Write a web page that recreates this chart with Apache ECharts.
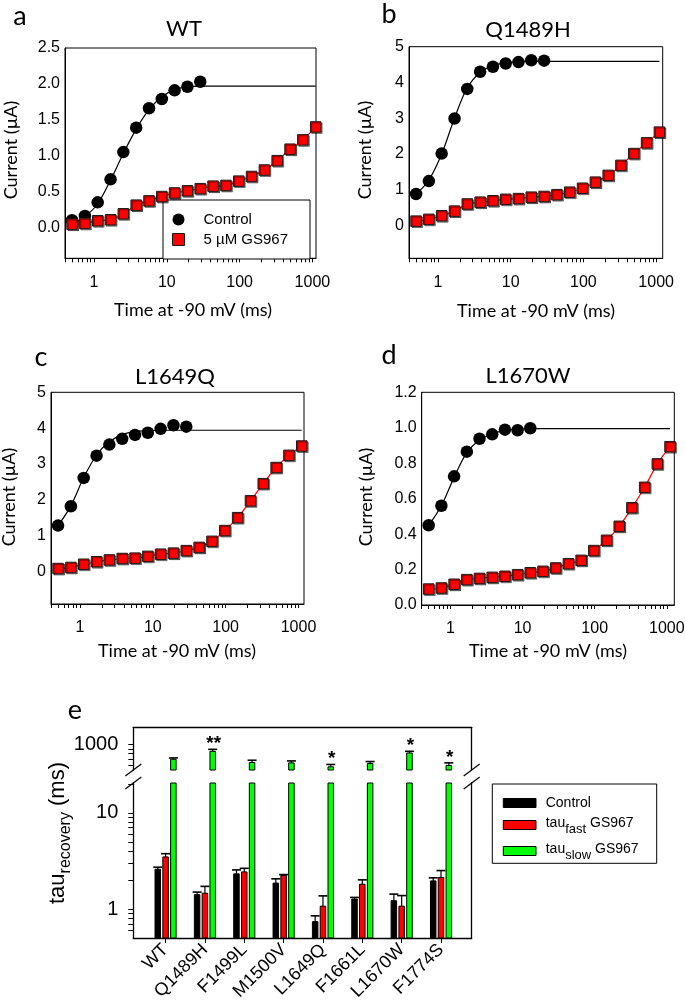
<!DOCTYPE html>
<html><head><meta charset="utf-8">
<script src="https://cdn.jsdelivr.net/npm/echarts@6/dist/echarts.min.js"></script>
<style>html,body{margin:0;padding:0;background:#fff}#c{width:685px;height:1005px}</style>
</head><body><div id="c"></div>
<script>
// ---------- data ----------
const times = [0.5, 0.75, 1.125, 1.69, 2.53, 3.8, 5.7, 8.54, 12.8, 19.2, 28.8, 43.2, 64.9, 97.3, 146, 219, 328, 493, 739, 1108];

const ctlA = [0.10, 0.16, 0.35, 0.67, 1.05, 1.39, 1.66, 1.79, 1.91, 1.96, 2.03];
const fitA = [0.05, 0.15, 0.33, 0.66, 1.03, 1.37, 1.64, 1.82, 1.92, 1.96, 1.97];
const plateauA = 1.97;
const gsA = [0.046, 0.056, 0.093, 0.107, 0.19, 0.31, 0.37, 0.43, 0.48, 0.51, 0.54, 0.575, 0.585, 0.645, 0.71, 0.80, 0.93, 1.09, 1.22, 1.40];

const ctlB = [0.88, 1.24, 2.01, 2.99, 3.82, 4.30, 4.44, 4.53, 4.57, 4.62, 4.61];
const fitB = [0.87, 1.27, 2.00, 3.00, 3.85, 4.28, 4.47, 4.55, 4.58, 4.59, 4.59];
const plateauB = 4.59;
const gsB = [0.12, 0.17, 0.27, 0.40, 0.60, 0.65, 0.69, 0.73, 0.75, 0.79, 0.81, 0.86, 0.93, 1.04, 1.21, 1.40, 1.68, 2.01, 2.31, 2.61];

const ctlC = [1.28, 1.82, 2.61, 3.23, 3.54, 3.70, 3.81, 3.87, 3.98, 4.08, 4.04];
const fitC = [1.28, 1.83, 2.62, 3.25, 3.62, 3.82, 3.90, 3.93, 3.94, 3.94, 3.94];
const plateauC = 3.94;
const gsC = [0.08, 0.11, 0.20, 0.27, 0.32, 0.36, 0.37, 0.42, 0.48, 0.51, 0.58, 0.67, 0.84, 1.14, 1.50, 1.97, 2.45, 2.90, 3.24, 3.50];

const ctlD = [0.45, 0.56, 0.726, 0.865, 0.938, 0.963, 0.989, 0.986, 0.997];
const fitD = [0.45, 0.56, 0.72, 0.86, 0.93, 0.965, 0.985, 0.993, 0.995];
const plateauD = 0.995;
const gsD = [0.090, 0.096, 0.117, 0.143, 0.150, 0.156, 0.162, 0.171, 0.182, 0.190, 0.209, 0.233, 0.252, 0.307, 0.365, 0.444, 0.549, 0.664, 0.796, 0.893];

const panelTitles = ['WT', 'Q1489H', 'L1649Q', 'L1670W'];
const panelLetters = ['a', 'b', 'c', 'd', 'e'];
const yTicksA = [0, 0.5, 1.0, 1.5, 2.0, 2.5];
const yTicksB = [0, 1, 2, 3, 4, 5];
const yTicksC = [0, 1, 2, 3, 4, 5];
const yTicksD = [0, 0.2, 0.4, 0.6, 0.8, 1.0, 1.2];
const xTickLabels = [1, 10, 100, 1000];

const variants = ['WT', 'Q1489H', 'F1499L', 'M1500V', 'L1649Q', 'F1661L', 'L1670W', 'F1774S'];
const tauCtl = [2.59, 1.41, 2.32, 1.86, 0.74, 1.27, 1.22, 1.96];
const tauCtlErrTop = [2.72, 1.50, 2.55, 2.06, 0.85, 1.32, 1.43, 2.11];
const tauFast = [3.48, 1.46, 2.43, 2.23, 1.07, 1.81, 1.07, 2.13];
const tauFastErrTop = [3.76, 1.72, 2.65, 2.28, 1.37, 2.01, 1.38, 2.51];
const tauSlow = [700, 847, 647, 641, 583, 631, 813, 603];
const tauSlowErrTop = [722, 888, 683, 672, 617, 662, 847, 641];
const signif = ['', '**', '', '', '*', '', '*', '*'];
const eUpperTicks = [600, 700, 800, 900, 1000];
const eLowerTicks = [0.6, 0.7, 0.8, 0.9, 1, 2, 3, 4, 5, 6, 7, 8, 9, 10, 20];

// ---------- layout ----------
const L10 = Math.log10;
const TICK_FONT = '"Liberation Sans", Arial, sans-serif';
const CAL_FONT = 'Lato, Carlito, sans-serif';
const panels = [
  { l: 65, r: 316, t: 48, b: 258.3, xmax: 1120, ymin: -0.43, ymax: 2.5, yt: yTicksA, dec: 1, ctl: ctlA, fit: fitA, pl: plateauA, gs: gsA },
  { l: 409, r: 662.7, t: 46.7, b: 258.3, xmax: 1230, ymin: -0.92, ymax: 5, yt: yTicksB, dec: 0, ctl: ctlB, fit: fitB, pl: plateauB, gs: gsB },
  { l: 51, r: 304, t: 392.3, b: 604, xmax: 1190, ymin: -0.91, ymax: 5, yt: yTicksC, dec: 0, ctl: ctlC, fit: fitC, pl: plateauC, gs: gsC },
  { l: 421.7, r: 674.3, t: 392.3, b: 605, xmax: 1270, ymin: 0, ymax: 1.2, yt: yTicksD, dec: 1, ctl: ctlD, fit: fitD, pl: plateauD, gs: gsD }
];
const XMIN = 0.4;
const minorX = [];
[0.1, 1, 10, 100, 1000].forEach(d => { for (let k = 1; k <= 9; k++) minorX.push(d * k); });

const eL = 133.3, eR = 471.7, eUpTop = 727.3, eUpBot = 770, eLoTop = 783, eLoBot = 938;
const eXmin = -0.82, eXmax = 7.78;
const upMin = 540, upMax = 1510, loMin = 0.5, loMax = 20.4;

const grids = [], xAxes = [], yAxes = [], series = [];
const blackLine = { show: true, onZero: false, lineStyle: { color: '#000', width: 1 } };
panels.forEach((p, i) => {
  grids.push({ left: p.l, top: p.t, width: p.r - p.l, height: p.b - p.t, show: true, borderColor: '#000', borderWidth: 1, outerBoundsMode: 'none', containLabel: false });
  const xmin = L10(XMIN), xmax = L10(p.xmax);
  xAxes.push({
    type: 'value', gridIndex: i, min: xmin, max: xmax, position: 'bottom',
    axisLine: blackLine,
    axisTick: { show: true, inside: false, length: 4, lineStyle: { color: '#000' }, customValues: minorX.map(L10).filter(v => v >= xmin - 1e-9 && v <= xmax + 1e-9) },
    axisLabel: { customValues: xTickLabels.map(L10), formatter: v => String(Math.round(Math.pow(10, v))), fontFamily: TICK_FONT, fontSize: 16, color: '#000', margin: 16 },
    splitLine: { show: false }
  });
  yAxes.push({
    type: 'value', gridIndex: i, min: p.ymin, max: p.ymax, position: 'left',
    axisLine: blackLine,
    axisTick: { show: false },
    axisLabel: { customValues: p.yt, formatter: v => v.toFixed(p.dec), fontFamily: TICK_FONT, fontSize: 16, color: '#000', margin: 5 },
    splitLine: { show: false }
  });
  const fitData = p.fit.map((v, k) => [L10(times[k]), v]).concat([[L10(times[times.length - 1]), p.pl]]);
  series.push({ type: 'line', name: 'Control fit', xAxisIndex: i, yAxisIndex: i, data: fitData, smooth: 0.35, symbol: 'none', lineStyle: { color: '#000', width: 1.2 }, z: 2, silent: true });
  series.push({ type: 'line', name: 'GS967 fit', xAxisIndex: i, yAxisIndex: i, data: p.gs.map((v, k) => [L10(times[k]), v]), smooth: 0.35, symbol: 'none', lineStyle: { color: '#ff0000', width: 1.2 }, z: 2, silent: true });
  series.push({ type: 'scatter', name: 'Control', xAxisIndex: i, yAxisIndex: i, data: p.ctl.map((v, k) => [L10(times[k]), v]), symbol: 'circle', symbolSize: 12.5, itemStyle: { color: '#000', opacity: 1 }, z: 4 });
  series.push({ type: 'scatter', name: '5 µM GS967', xAxisIndex: i, yAxisIndex: i, data: p.gs.map((v, k) => [L10(times[k]), v]), symbol: 'rect', symbolSize: 10.5, itemStyle: { color: '#ff0000', borderColor: '#1a1a1a', borderWidth: 1, shadowColor: 'rgba(0,0,0,0.45)', shadowOffsetX: 1.2, shadowOffsetY: 1.2, shadowBlur: 0.5, opacity: 1 }, z: 4 });
});

// panel e grids
grids.push({ left: eL, top: eUpTop, width: eR - eL, height: eUpBot - eUpTop, show: false, outerBoundsMode: 'none', containLabel: false });
grids.push({ left: eL, top: eLoTop, width: eR - eL, height: eLoBot - eLoTop, show: false, outerBoundsMode: 'none', containLabel: false });
const eLine = { show: true, onZero: false, lineStyle: { color: '#000', width: 1.3 } };
xAxes.push({ type: 'value', gridIndex: 4, min: eXmin, max: eXmax, position: 'top', axisLine: eLine, axisTick: { show: false }, axisLabel: { show: false }, splitLine: { show: false } });
xAxes.push({
  type: 'value', gridIndex: 5, min: eXmin, max: eXmax, position: 'bottom',
  axisLine: eLine,
  axisTick: { show: true, length: 5, customValues: variants.map((_, i) => i), lineStyle: { color: '#000' } },
  axisLabel: { customValues: variants.map((_, i) => i), formatter: v => variants[Math.round(v)], rotate: 45, fontFamily: TICK_FONT, fontSize: 18, color: '#000', margin: 9 },
  splitLine: { show: false }
});
const eAxisCommon = { type: 'value', splitLine: { show: false } };
yAxes.push(Object.assign({}, eAxisCommon, {
  gridIndex: 4, position: 'left', min: L10(upMin), max: L10(upMax),
  axisLine: eLine,
  axisTick: { show: true, length: 5, customValues: eUpperTicks.map(L10), lineStyle: { color: '#000' } },
  axisLabel: { customValues: [3], formatter: v => String(Math.round(Math.pow(10, v))), fontFamily: TICK_FONT, fontSize: 20, color: '#000', margin: 15 }
}));
yAxes.push(Object.assign({}, eAxisCommon, {
  gridIndex: 5, position: 'left', min: L10(loMin), max: L10(loMax),
  axisLine: eLine,
  axisTick: { show: true, length: 5, customValues: eLowerTicks.map(L10), lineStyle: { color: '#000' } },
  axisLabel: { customValues: [0, 1], formatter: v => String(Math.round(Math.pow(10, v))), fontFamily: TICK_FONT, fontSize: 20, color: '#000', margin: 15 }
}));
yAxes.push(Object.assign({}, eAxisCommon, { gridIndex: 4, position: 'right', min: L10(upMin), max: L10(upMax), axisLine: eLine, axisTick: { show: false }, axisLabel: { show: false } }));
yAxes.push(Object.assign({}, eAxisCommon, { gridIndex: 5, position: 'right', min: L10(loMin), max: L10(loMax), axisLine: eLine, axisTick: { show: false }, axisLabel: { show: false } }));

const BAR_W = 5.5, BAR_OFF = 7.8, CAP = 4.5;
function barRenderer(offset, fill, withStars) {
  return function (params, api) {
    const x = api.value(0), v = api.value(1), e = api.value(2);
    const cs = params.coordSys;
    const top = cs.y, bottom = cs.y + cs.height;
    const p = api.coord([x, v]);
    const pe = api.coord([x, e]);
    const cx = p[0] + offset;
    const yTop = Math.max(p[1], top);
    const children = [{
      type: 'rect', shape: { x: cx - BAR_W / 2, y: yTop, width: BAR_W, height: Math.max(0, bottom - yTop) },
      style: { fill: fill, stroke: '#000', lineWidth: 1 }
    }];
    if (p[1] >= top) {
      children.push({ type: 'line', shape: { x1: cx, y1: p[1], x2: cx, y2: pe[1] }, style: { stroke: '#000', lineWidth: 1.2 } });
      children.push({ type: 'line', shape: { x1: cx - CAP, y1: pe[1], x2: cx + CAP, y2: pe[1] }, style: { stroke: '#000', lineWidth: 1.6 } });
      if (withStars) {
        const s = signif[params.dataIndex];
        if (s) children.push({ type: 'text', style: { text: s, x: cx + 1, y: pe[1] - 15, textAlign: 'center', textVerticalAlign: 'top', font: 'bold 19px ' + TICK_FONT, fill: '#000' } });
      }
    }
    return { type: 'group', children: children };
  };
}
const mk = (vals, errs) => vals.map((v, i) => [i, L10(v), L10(errs[i])]);
series.push({ type: 'custom', name: 'Control', xAxisIndex: 5, yAxisIndex: 5, renderItem: barRenderer(-BAR_OFF, '#000000', false), data: mk(tauCtl, tauCtlErrTop), itemStyle: { color: '#000' }, z: 3 });
series.push({ type: 'custom', name: 'tau fast GS967', xAxisIndex: 5, yAxisIndex: 5, renderItem: barRenderer(0, '#ff0000', false), data: mk(tauFast, tauFastErrTop), itemStyle: { color: '#ff0000' }, z: 3 });
series.push({ type: 'custom', name: 'tau slow GS967', xAxisIndex: 5, yAxisIndex: 5, renderItem: barRenderer(BAR_OFF, '#00ff00', false), data: mk(tauSlow, tauSlowErrTop), itemStyle: { color: '#00ff00' }, z: 3 });
series.push({ type: 'custom', name: 'tau slow GS967 (upper)', xAxisIndex: 4, yAxisIndex: 4, renderItem: barRenderer(BAR_OFF, '#00ff00', true), data: mk(tauSlow, tauSlowErrTop), itemStyle: { color: '#00ff00' }, z: 3 });

// ---------- text & decorations ----------
const mctx = document.createElement('canvas').getContext('2d');
const measure = (t, font) => { mctx.font = font; return mctx.measureText(t).width; };
const g = [];
const txt = (text, x, y, font, extra) => Object.assign({ type: 'text', x: x, y: y, style: { text: text, font: font, fill: '#000', textAlign: 'center', textVerticalAlign: 'middle' } }, extra || {});
const letterPos = [[20, 16], [389, 14], [41, 357], [389, 355], [75, 710]];
panelLetters.forEach((l, i) => g.push(txt(l, letterPos[i][0], letterPos[i][1], '27px ' + CAL_FONT)));
const titlePos = [[184, 29], [528, 30], [175, 377], [528, 376]];
panelTitles.forEach((t, i) => g.push(txt(t, titlePos[i][0], titlePos[i][1], '22px ' + CAL_FONT)));
const xNamePos = [[193, 310], [536, 311], [177, 651], [548, 651]];
xNamePos.forEach(p => g.push(txt('Time at -90 mV (ms)', p[0], p[1], '18px ' + CAL_FONT)));
const yNamePos = [[11, 150], [365, 150], [9, 497], [366, 497]];
yNamePos.forEach(p => g.push(txt('Current (µA)', p[0], p[1], '18px ' + CAL_FONT, { rotation: Math.PI / 2 })));

// panel e y-axis name: tau with subscript "recovery", rotated
(function () {
  const fm = '22px ' + TICK_FONT, fs = '16px ' + TICK_FONT;
  const parts = [['tau', fm, 0], ['recovery', fs, 8], [' (ms)', fm, 0]];
  const total = parts.reduce((s, p) => s + measure(p[0], p[1]), 0);
  let y = 833 + total / 2;
  const xMain = 58;
  parts.forEach(p => {
    const w = measure(p[0], p[1]);
    g.push({ type: 'text', x: xMain + p[2], y: y, rotation: Math.PI / 2, style: { text: p[0], font: p[1], fill: '#000', textAlign: 'left', textVerticalAlign: 'middle' } });
    y -= w;
  });
})();

// axis break marks
[[eL, eUpBot], [eL, eLoTop], [eR, eUpBot], [eR, eLoTop]].forEach(p => {
  g.push({ type: 'line', shape: { x1: p[0] - 8, y1: p[1] + 6, x2: p[0] + 8, y2: p[1] - 6 }, style: { stroke: '#000', lineWidth: 1.2 } });
});

// panel e legend
const lgX = 492.3, lgY = 784, lgW = 164.4, lgH = 79.3;
g.push({ type: 'rect', shape: { x: lgX, y: lgY, width: lgW, height: lgH }, style: { fill: '#fff', stroke: '#000', lineWidth: 1 } });
const lgItems = [
  { c: '#000000', y: 803, parts: [['Control', 0]] },
  { c: '#ff0000', y: 825, parts: [['tau', 0], ['fast', 1], [' GS967', 0]] },
  { c: '#00ff00', y: 851, parts: [['tau', 0], ['slow', 1], [' GS967', 0]] }
];
const lgFm = '14px ' + TICK_FONT, lgFs = '13px ' + TICK_FONT;
lgItems.forEach(it => {
  g.push({ type: 'rect', shape: { x: 503.3, y: it.y - 4.5, width: 32.7, height: 9 }, style: { fill: it.c, stroke: '#000', lineWidth: 1 } });
  let x = 545.7;
  it.parts.forEach(p => {
    const f = p[1] ? lgFs : lgFm;
    const y = it.parts.length === 1 ? it.y : (p[1] ? it.y + 4 : it.y - 2);
    g.push({ type: 'text', x: x, y: y, style: { text: p[0], font: f, fill: '#000', textAlign: 'left', textVerticalAlign: 'middle' } });
    x += measure(p[0], f);
  });
});

const option = {
  backgroundColor: '#fff',
  animation: false,
  grid: grids, xAxis: xAxes, yAxis: yAxes, series: series,
  legend: {
    show: true, orient: 'vertical', left: 163, top: 200,
    padding: [12, 22, 12, 9], itemGap: 5, itemWidth: 40, itemHeight: 12,
    backgroundColor: '#fff', borderColor: '#000', borderWidth: 1, borderRadius: 0,
    selectedMode: false,
    textStyle: { fontFamily: TICK_FONT, fontSize: 15, color: '#000' },
    data: [
      { name: 'Control', icon: 'circle', itemStyle: { color: '#000', borderWidth: 0 } },
      { name: '5 µM GS967', icon: 'path://M0,0H1V1H0Z', itemStyle: { color: '#ff0000', borderColor: '#1a1a1a', borderWidth: 1 } }
    ]
  },
  graphic: { elements: g }
};
const chart = echarts.init(document.getElementById('c'), null, { renderer: 'canvas', width: 685, height: 1005 });
chart.setOption(option);
</script></body></html>
